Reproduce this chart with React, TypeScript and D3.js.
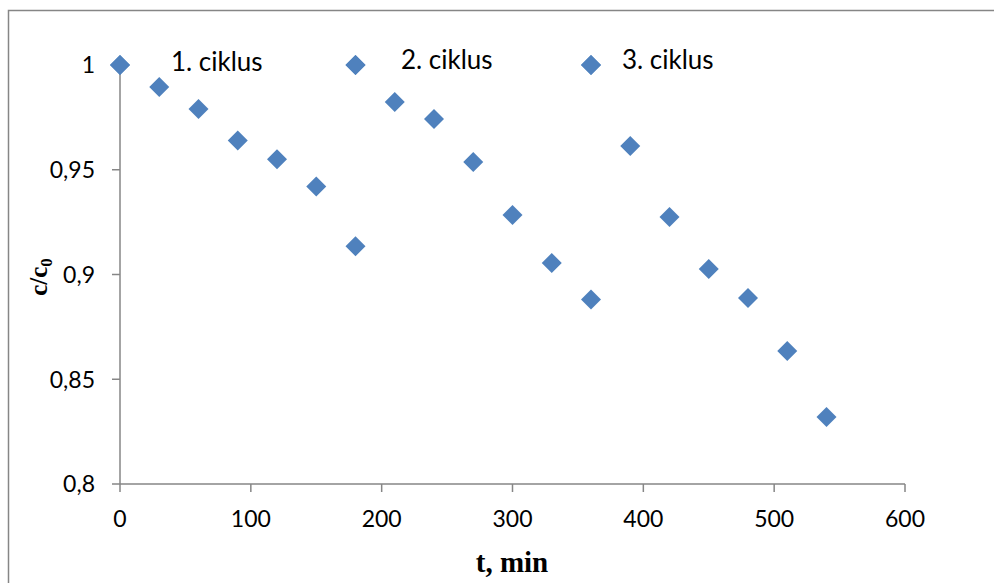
import * as d3 from 'd3'

const cycle1T = [0, 30, 60, 90, 120, 150, 180]
const cycle1C = [1, 0.9895, 0.979, 0.964, 0.955, 0.942, 0.9135]
const cycle2T = [180, 210, 240, 270, 300, 330, 360]
const cycle2C = [1, 0.9823, 0.9742, 0.9537, 0.9284, 0.9055, 0.8881]
const cycle3T = [360, 390, 420, 450, 480, 510, 540]
const cycle3C = [1, 0.9613, 0.9274, 0.9026, 0.8888, 0.8635, 0.832]

const seriesNames = ['1. ciklus', '2. ciklus', '3. ciklus']
const xTicks = [0, 100, 200, 300, 400, 500, 600]
const yTicks = [0.8, 0.85, 0.9, 0.95, 1]

const W = 994
const H = 583
const m = { left: 120, top: 65, right: 89, bottom: 99 }

const x = d3.scaleLinear().domain([0, 600]).range([m.left, W - m.right])
const y = d3.scaleLinear().domain([0.8, 1]).range([H - m.bottom, m.top])

const axisColor = '#868686'
const markColor = '#4f81bd'
const font = 'Lato, "Open Sans", sans-serif'

// square turned 45 degrees, like Excel's diamond marker
const diamond = d3.symbol(d3.symbolSquare, 200)

function Diamond({ cx, cy }: { cx: number; cy: number }) {
  return (
    <path
      d={diamond() ?? ''}
      transform={`translate(${cx},${cy}) rotate(45)`}
      fill={markColor}
    />
  )
}

export default function App() {
  const series = [
    { t: cycle1T, c: cycle1C },
    { t: cycle2T, c: cycle2C },
    { t: cycle3T, c: cycle3C },
  ]
  const legendX = [171, 401, 622]
  const legendMarkX = [0, 180, 360]
  return (
    <svg
      width={W}
      height={H}
      style={{ position: 'absolute', left: 0, top: 0, background: '#fff' }}
    >
      <rect x={8.5} y={10.5} width={1100} height={700} fill="none" stroke={axisColor} strokeWidth={1.5} />

      {/* axes */}
      <line x1={x(0)} x2={x(0)} y1={y(1)} y2={y(0.8)} stroke={axisColor} strokeWidth={1.5} />
      <line x1={x(0)} x2={x(600)} y1={y(0.8)} y2={y(0.8)} stroke={axisColor} strokeWidth={1.5} />
      {yTicks.map((v) => (
        <g key={'y' + v}>
          <line x1={x(0) - 8} x2={x(0)} y1={y(v)} y2={y(v)} stroke={axisColor} strokeWidth={1.5} />
          <text
            x={95}
            y={y(v)}
            dy="0.36em"
            textAnchor="end"
            fontFamily={font}
            fontSize={23}
            fill="#000"
          >
            {String(v).replace('.', ',')}
          </text>
        </g>
      ))}
      {xTicks.map((v) => (
        <g key={'x' + v}>
          <line x1={x(v)} x2={x(v)} y1={y(0.8)} y2={y(0.8) + 8} stroke={axisColor} strokeWidth={1.5} />
          <text
            x={x(v)}
            y={527}
            textAnchor="middle"
            fontFamily={font}
            fontSize={23}
            fill="#000"
          >
            {v}
          </text>
        </g>
      ))}

      {/* axis titles */}
      <text
        x={512}
        y={572}
        textAnchor="middle"
        fontFamily='"Liberation Serif", serif'
        fontWeight="bold"
        fontSize={29}
      >
        t, min
      </text>
      <text
        transform="translate(47,277) rotate(-90)"
        textAnchor="middle"
        fontFamily='"Liberation Serif", serif'
        fontWeight="bold"
        fontSize={25}
      >
        c/c
        <tspan fontSize={17} dy={5}>0</tspan>
      </text>

      {/* points */}
      {series.map((s, i) =>
        s.t.map((t, j) => <Diamond key={`${i}-${j}`} cx={x(t)} cy={y(s.c[j])} />)
      )}

      {/* legend */}
      {seriesNames.map((n, i) => (
        <g key={n}>
          <Diamond cx={x(legendMarkX[i])} cy={y(1)} />
          <text x={legendX[i]} y={i === 0 ? 71 : 69} fontFamily={font} fontSize={26} fill="#000">
            {n}
          </text>
        </g>
      ))}
    </svg>
  )
}
